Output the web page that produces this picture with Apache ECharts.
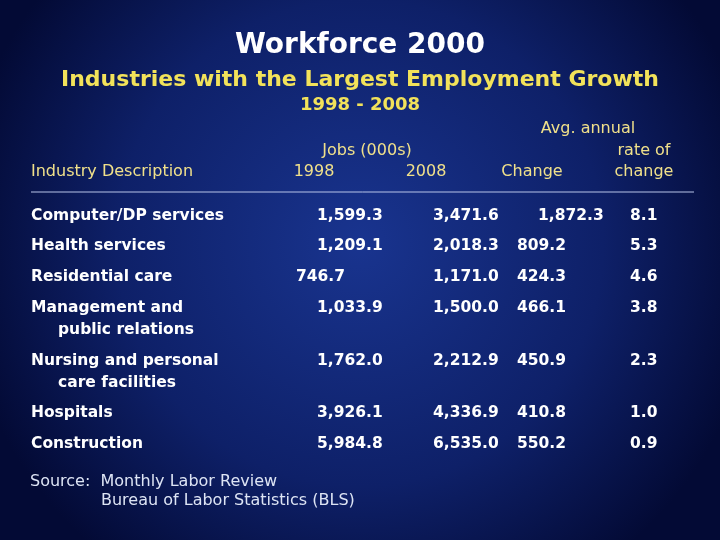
<!DOCTYPE html><html><head><meta charset="utf-8">
<script src="https://cdn.jsdelivr.net/npm/echarts@6/dist/echarts.min.js"></script>
<style>html,body{margin:0;padding:0;}#c{width:720px;height:540px;}</style></head><body><div id="c"></div>
<script>
const industries=[["Computer/DP services"],["Health services"],["Residential care"],["Management and","public relations"],["Nursing and personal","care facilities"],["Hospitals"],["Construction"]];
const jobs1998=["1,599.3","1,209.1","746.7","1,033.9","1,762.0","3,926.1","5,984.8"];
const jobs2008=["3,471.6","2,018.3","1,171.0","1,500.0","2,212.9","4,336.9","6,535.0"];
const change=["1,872.3","809.2","424.3","466.1","450.9","410.8","550.2"];
const rate=["8.1","5.3","4.6","3.8","2.3","1.0","0.9"];
const rowY=[216,246,277,308,361,413,444];
const x1998=[317,317,296,317,317,317,317];
const xChange=[538,517,517,517,517,517,517];
const F='DejaVu Sans, Verdana, sans-serif';
const g=[];
function t(x,y,s,o){g.push({type:'text',x:x,y:y,style:Object.assign({text:s,fill:'#fff',font:'bold 15.5px '+F,textVerticalAlign:'middle'},o||{})});}
t(360,46,'Workforce 2000',{font:'bold 28px '+F,textAlign:'center'});
t(360,80,'Industries with the Largest Employment Growth',{font:'bold 22px '+F,fill:'#f2e25a',textAlign:'center'});
t(360,105,'1998 - 2008',{font:'bold 18px '+F,fill:'#f2e25a',textAlign:'center'});
const H={font:'16px '+F,fill:'#f0e08a'};
t(31,172,'Industry Description',H);
t(367,151,'Jobs (000s)',Object.assign({textAlign:'center'},H));
t(314,172,'1998',Object.assign({textAlign:'center'},H));
t(426,172,'2008',Object.assign({textAlign:'center'},H));
t(532,172,'Change',Object.assign({textAlign:'center'},H));
t(588,129,'Avg. annual',Object.assign({textAlign:'center'},H));
t(644,151,'rate of',Object.assign({textAlign:'center'},H));
t(644,172,'change',Object.assign({textAlign:'center'},H));
g.push({type:'line',shape:{x1:31,y1:192,x2:694,y2:192},style:{stroke:'#b8c4e8',lineWidth:1}});
industries.forEach((d,i)=>{
  t(31,rowY[i],d[0]); if(d[1]) t(58,rowY[i]+22,d[1]);
  t(x1998[i],rowY[i],jobs1998[i]);
  t(433,rowY[i],jobs2008[i]);
  t(xChange[i],rowY[i],change[i]);
  t(630,rowY[i],rate[i]);
});
const S={font:'16px '+F,fill:'#dde4f4'};
t(30,482,'Source:  Monthly Labor Review',S);
t(101,501,'Bureau of Labor Statistics (BLS)',S);
const ch=echarts.init(document.getElementById('c'));
ch.setOption({backgroundColor:{type:'radial',x:0.5,y:0.45,r:0.75,colorStops:[{offset:0,color:'#19348f'},{offset:0.6,color:'#0e2068'},{offset:1,color:'#030a35'}]},graphic:g});
</script></body></html>
